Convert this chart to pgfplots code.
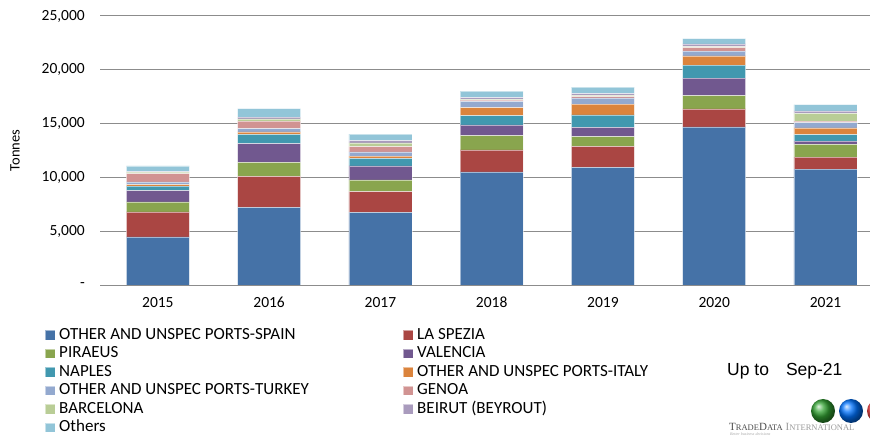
\documentclass[border=0pt]{standalone}
\usepackage{pgfplots}
\pgfplotsset{compat=1.18}
\usepackage{fontspec}
\setmainfont{Carlito}
\newfontfamily\logofont{Liberation Serif}
\newfontfamily\arialfont{Liberation Sans}
\definecolor{cSpain}{HTML}{4572A7}
\definecolor{cSpezia}{HTML}{AA4643}
\definecolor{cPiraeus}{HTML}{89A54E}
\definecolor{cValencia}{HTML}{71588F}
\definecolor{cNaples}{HTML}{4198AF}
\definecolor{cItaly}{HTML}{DB843D}
\definecolor{cTurkey}{HTML}{93A9CF}
\definecolor{cGenoa}{HTML}{D19392}
\definecolor{cBarcelona}{HTML}{B9CD96}
\definecolor{cBeirut}{HTML}{A99BBD}
\definecolor{cOthers}{HTML}{92C5D8}
\definecolor{gridgray}{HTML}{8C8C8C}
\newcommand{\Lc}[1]{\makebox[342bp][l]{#1}}
\begin{document}
\begin{tikzpicture}
\useasboundingbox (0bp,0bp) rectangle (870bp,437bp);
\begin{axis}[
  at={(100bp,152bp)}, anchor=south west,
  scale only axis, width=770bp, height=269bp,
  ybar stacked, bar width=63bp,
  xmin=-0.52, xmax=6.4, ymin=0, ymax=25000,
  scaled y ticks=false,
  axis x line*=bottom, axis y line*=left,
  y axis line style={draw=none},
  x axis line style={gridgray, line width=1bp},
  ymajorgrids, grid style={gridgray, line width=1bp},
  major tick length=0pt,
  xtick={0,1,2,3,4,5,6},
  xticklabels={2015,2016,2017,2018,2019,2020,2021},
  ytick={0,5000,10000,15000,20000,25000},
  yticklabels={{-\hspace{9bp}},{5,000},{10,000},{15,000},{20,000},{25,000}},
  tick label style={font=\fontsize{15.5bp}{18bp}\selectfont},
  yticklabel style={inner sep=0pt, xshift=-15bp},
  xticklabel style={inner sep=0pt, yshift=-12bp},
  ylabel={Tonnes},
  every axis y label/.style={at={(axis description cs:-0.1104,0.5)}, rotate=90, anchor=center, font=\fontsize{14.5bp}{17bp}\selectfont},
  every axis plot/.append style={draw=white, draw opacity=0.5, line width=0.5bp},
  legend image code/.code={\fill[#1] (0bp,-4.5bp) rectangle (9.5bp,5bp);},
  legend columns=2,
  legend style={at={(axis description cs:-0.0714,-0.152)}, anchor=north west,
    draw=none, fill=none, inner sep=0pt, row sep=0pt,
    font=\fontsize{17bp}{19bp}\selectfont,
    cells={anchor=west},
    nodes={inner sep=2bp, text height=11bp, text depth=3.5bp},
    /tikz/every odd column/.append style={column sep=2bp}},
]
\addplot[fill=cSpain] coordinates {(0,4470) (1,7220) (2,6750) (3,10520) (4,10940) (5,14690) (6,10760)};
\addlegendentry{\Lc{OTHER AND UNSPEC PORTS-SPAIN}}
\addplot[fill=cSpezia] coordinates {(0,2330) (1,2870) (2,1920) (3,2040) (4,1950) (5,1670) (6,1120)};
\addlegendentry{LA SPEZIA}
\addplot[fill=cPiraeus] coordinates {(0,930) (1,1300) (2,1110) (3,1330) (4,900) (5,1230) (6,1200)};
\addlegendentry{\Lc{PIRAEUS}}
\addplot[fill=cValencia] coordinates {(0,1030) (1,1760) (2,1300) (3,990) (4,870) (5,1640) (6,280)};
\addlegendentry{VALENCIA}
\addplot[fill=cNaples] coordinates {(0,430) (1,860) (2,680) (3,860) (4,1140) (5,1200) (6,620)};
\addlegendentry{\Lc{NAPLES}}
\addplot[fill=cItaly] coordinates {(0,150) (1,220) (2,220) (3,740) (4,1000) (5,870) (6,620)};
\addlegendentry{OTHER AND UNSPEC PORTS-ITALY}
\addplot[fill=cTurkey] coordinates {(0,250) (1,310) (2,400) (3,590) (4,580) (5,430) (6,490)};
\addlegendentry{\Lc{OTHER AND UNSPEC PORTS-TURKEY}}
\addplot[fill=cGenoa] coordinates {(0,770) (1,680) (2,470) (3,120) (4,130) (5,340) (6,130)};
\addlegendentry{GENOA}
\addplot[fill=cBarcelona] coordinates {(0,120) (1,210) (2,370) (3,60) (4,120) (5,90) (6,740)};
\addlegendentry{\Lc{BARCELONA}}
\addplot[fill=cBeirut] coordinates {(0,60) (1,160) (2,190) (3,160) (4,160) (5,250) (6,220)};
\addlegendentry{BEIRUT (BEYROUT)}
\addplot[fill=cOthers] coordinates {(0,530) (1,800) (2,610) (3,610) (4,590) (5,490) (6,580)};
\addlegendentry{\Lc{Others}}
\end{axis}
\node[anchor=west, inner sep=0pt, font=\arialfont\fontsize{17.5bp}{20bp}\selectfont] at (727bp,66bp) {Up to\hspace{17bp}Sep-21};
\shade[ball color=green!55!black!80!white] (823bp,26bp) circle (12bp);
\shade[ball color=blue!55!cyan] (851bp,26bp) circle (12bp);
\shade[ball color=red!70!white] (879bp,26bp) circle (12bp);
\node[anchor=base west, inner sep=0pt, text=black!70] at (729bp,7bp) {\logofont\fontsize{11bp}{12bp}\selectfont T{\fontsize{8.5bp}{9bp}\selectfont RADE}D{\fontsize{8.5bp}{9bp}\selectfont ATA} {\color{gray!80}I{\fontsize{8.5bp}{9bp}\selectfont NTERNATIONAL}}};
\node[anchor=base west, inner sep=0pt, text=gray!70] at (730bp,1.5bp) {\logofont\itshape\fontsize{4bp}{5bp}\selectfont Better business decisions};
\end{tikzpicture}
\end{document}
